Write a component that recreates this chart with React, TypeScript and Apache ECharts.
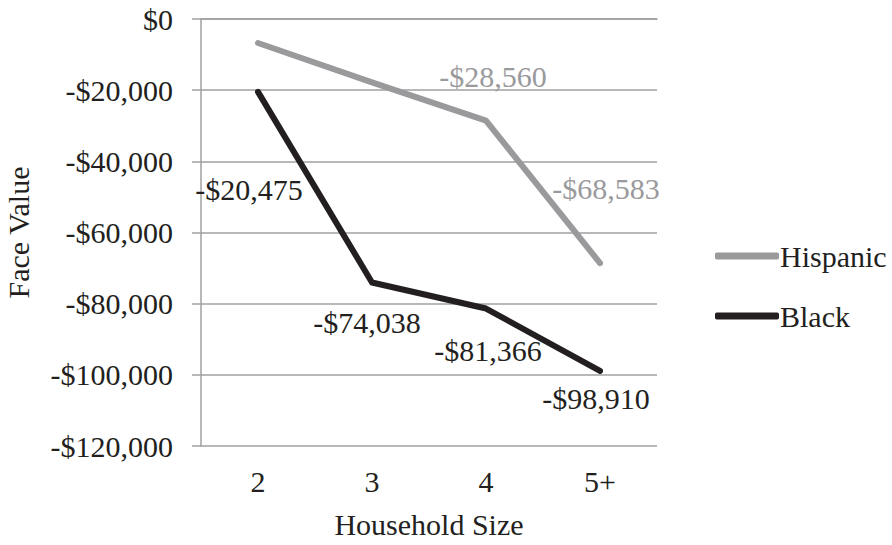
import React, { useEffect, useRef } from "react";
import * as echarts from "echarts";

const categories = ["2", "3", "4", "5+"];
const hispanicValues = [-6750, -17800, -28560, -68583];
const blackValues = [-20475, -74038, -81366, -98910];
const hispanicLabelShown = [false, false, true, true];
const blackLabelShown = [true, true, true, true];
const hispanicLabelOffsets = [[0, 0], [0, 0], [7, -44], [6, -75]];
const blackLabelOffsets = [[-9, 98], [-5, 40], [2, 42], [-4, 28]];

const FONT = "'Liberation Serif', 'Times New Roman', serif";
const FS = 30;
const GRAY = "#9a9a9c";
const DARK = "#231f20";

const fmt = (v: number) => {
  const s = "$" + Math.abs(v).toLocaleString("en-US");
  return v < 0 ? "-" + s : s;
};

export default function App() {
  const ref = useRef<HTMLDivElement>(null);
  useEffect(() => {
    if (!ref.current) return;
    const chart = echarts.init(ref.current, null, { renderer: "svg" });
    const mk = (vals: number[], shown: boolean[], offs: number[][], color: string) =>
      vals.map((v, i) => ({
        value: v,
        label: {
          show: shown[i],
          position: "inside",
          offset: offs[i],
          formatter: () => fmt(v),
          color,
          fontFamily: FONT,
          fontSize: FS,
        },
      }));
    chart.setOption({
      animation: false,
      backgroundColor: "#ffffff",
      grid: { left: 201, right: 235, top: 19, bottom: 99, containLabel: false, outerBoundsMode: "none" },
      legend: {
        orient: "vertical",
        left: 710,
        top: 236,
        itemWidth: 64,
        itemHeight: 7,
        itemGap: 30,
        icon: "roundRect",
        textStyle: { fontFamily: FONT, fontSize: FS, color: DARK, padding: [0, 0, 0, -4] },
        data: ["Hispanic", "Black"],
      },
      xAxis: {
        type: "category",
        data: categories,
        boundaryGap: true,
        name: "Household Size",
        nameLocation: "middle",
        nameGap: 63,
        nameTextStyle: { fontFamily: FONT, fontSize: FS, color: DARK },
        axisLine: { show: true, lineStyle: { color: "#a0a0a0", width: 1.5 } },
        axisTick: { show: false },
        axisLabel: { fontFamily: FONT, fontSize: FS, color: DARK, margin: 20 },
      },
      yAxis: {
        type: "value",
        min: -120000,
        max: 0,
        interval: 20000,
        name: "Face Value",
        nameLocation: "middle",
        nameGap: 168,
        nameRotate: 90,
        nameTextStyle: { fontFamily: FONT, fontSize: FS, color: DARK },
        axisLine: { show: true, lineStyle: { color: "#a0a0a0", width: 1.5 } },
        axisTick: { show: true, length: 9, lineStyle: { color: "#a0a0a0", width: 1.5 } },
        axisLabel: { fontFamily: FONT, fontSize: FS, color: DARK, margin: 28, formatter: fmt },
        splitLine: { show: true, lineStyle: { color: "#a0a0a0", width: 1.5 } },
      },
      series: [
        {
          name: "Hispanic",
          type: "line",
          data: mk(hispanicValues, hispanicLabelShown, hispanicLabelOffsets, GRAY),
          symbol: "circle",
          symbolSize: 0.1,
          showSymbol: true,
          color: GRAY,
          lineStyle: { color: GRAY, width: 6, cap: "round", join: "round" },
        },
        {
          name: "Black",
          type: "line",
          data: mk(blackValues, blackLabelShown, blackLabelOffsets, DARK),
          symbol: "circle",
          symbolSize: 0.1,
          showSymbol: true,
          color: DARK,
          lineStyle: { color: DARK, width: 6, cap: "round", join: "round" },
        },
      ],
    });
    return () => chart.dispose();
  }, []);
  return <div ref={ref} style={{ width: 892, height: 545, position: "absolute", left: 0, top: 0 }} />;
}
